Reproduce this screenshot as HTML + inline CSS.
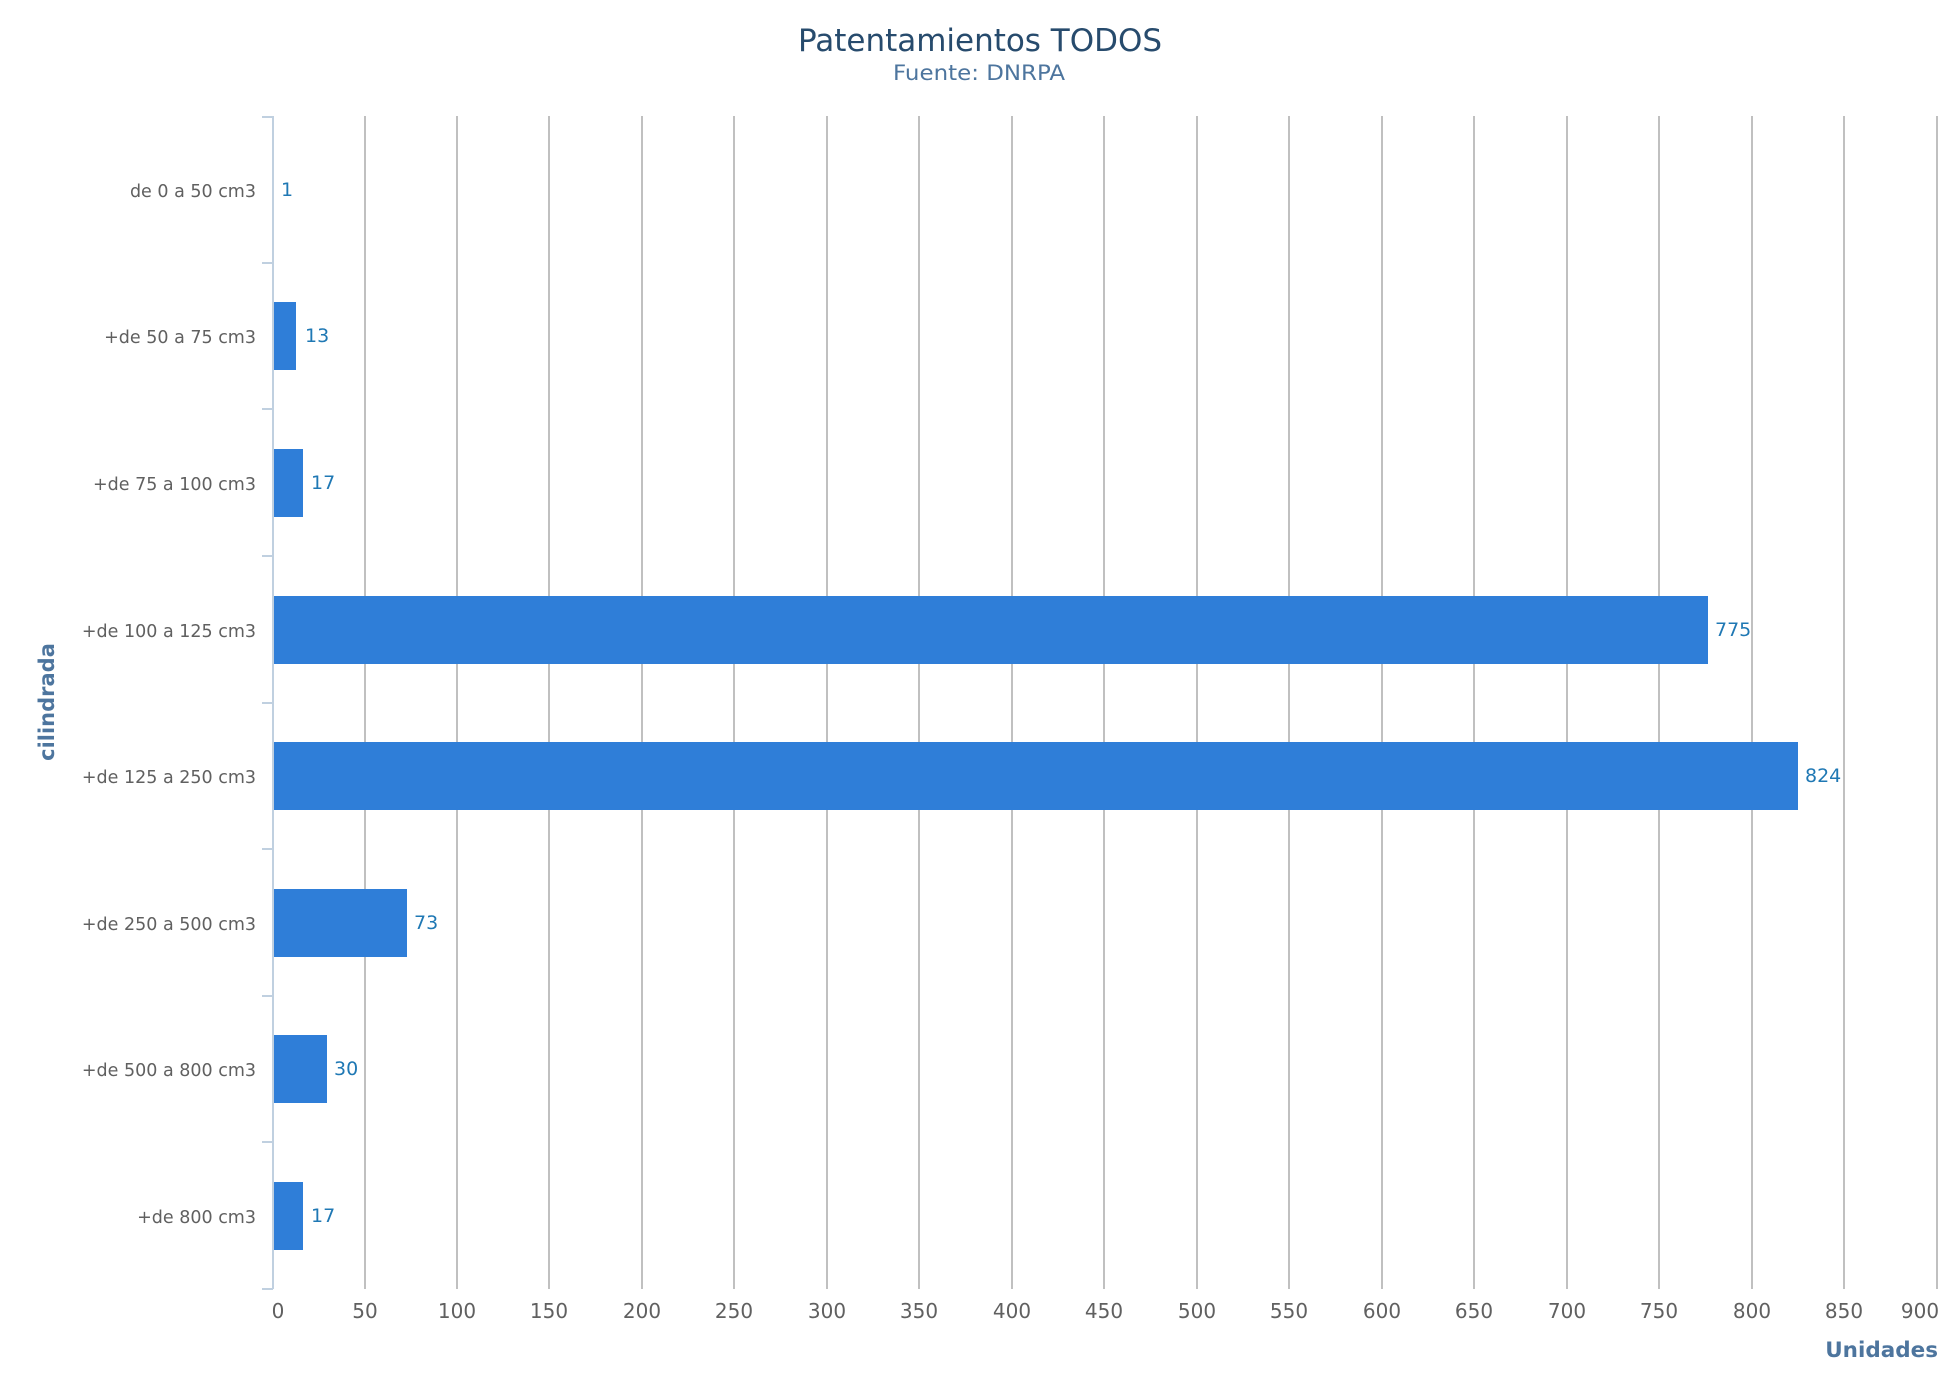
<!DOCTYPE html>
<html><head><meta charset="utf-8"><style>html,body{margin:0;padding:0;background:#fff}svg{display:block}</style></head>
<body>
<svg width="1960" height="1400" xmlns="http://www.w3.org/2000/svg" font-family="DejaVu Sans, Liberation Sans, sans-serif">
<text x="980" y="51" text-anchor="middle" font-size="31" fill="#274b6d" textLength="364" lengthAdjust="spacingAndGlyphs">Patentamientos TODOS</text>
<text x="979" y="80" text-anchor="middle" font-size="21" fill="#4d759e" textLength="172" lengthAdjust="spacingAndGlyphs">Fuente: DNRPA</text>
<g stroke="#c0c0c0" stroke-width="2">
<line x1="365" y1="116" x2="365" y2="1289"/><line x1="457" y1="116" x2="457" y2="1289"/><line x1="549" y1="116" x2="549" y2="1289"/><line x1="642" y1="116" x2="642" y2="1289"/><line x1="734" y1="116" x2="734" y2="1289"/><line x1="827" y1="116" x2="827" y2="1289"/><line x1="919" y1="116" x2="919" y2="1289"/><line x1="1012" y1="116" x2="1012" y2="1289"/><line x1="1104" y1="116" x2="1104" y2="1289"/><line x1="1197" y1="116" x2="1197" y2="1289"/><line x1="1289" y1="116" x2="1289" y2="1289"/><line x1="1382" y1="116" x2="1382" y2="1289"/><line x1="1474" y1="116" x2="1474" y2="1289"/><line x1="1567" y1="116" x2="1567" y2="1289"/><line x1="1659" y1="116" x2="1659" y2="1289"/><line x1="1752" y1="116" x2="1752" y2="1289"/><line x1="1844" y1="116" x2="1844" y2="1289"/><line x1="1937" y1="116" x2="1937" y2="1289"/>
</g>
<g stroke="#c0d0e0" stroke-width="2">
<line x1="273" y1="116" x2="273" y2="1289"/>
<line x1="262" y1="117" x2="273" y2="117"/><line x1="262" y1="263" x2="273" y2="263"/><line x1="262" y1="409" x2="273" y2="409"/><line x1="262" y1="556" x2="273" y2="556"/><line x1="262" y1="703" x2="273" y2="703"/><line x1="262" y1="849" x2="273" y2="849"/><line x1="262" y1="996" x2="273" y2="996"/><line x1="262" y1="1142" x2="273" y2="1142"/><line x1="262" y1="1289" x2="273" y2="1289"/>
</g>
<g fill="#2f7ed8">
<rect x="274" y="302" width="22" height="68"/>
<rect x="274" y="449" width="29" height="68"/>
<rect x="274" y="596" width="1434" height="68"/>
<rect x="274" y="742" width="1524" height="68"/>
<rect x="274" y="889" width="133" height="68"/>
<rect x="274" y="1035" width="53" height="68"/>
<rect x="274" y="1182" width="29" height="68"/>
</g>
<g font-size="19" fill="#1f78b4">
<text x="281" y="196">1</text><text x="305" y="342">13</text><text x="311" y="489">17</text><text x="1715" y="636">775</text><text x="1805" y="782">824</text><text x="414" y="929">73</text><text x="334" y="1075">30</text><text x="311" y="1222">17</text>
</g>
<g font-size="17.5" fill="#606060" text-anchor="end">
<text x="256" y="197">de 0 a 50 cm3</text><text x="256" y="343">+de 50 a 75 cm3</text><text x="256" y="490">+de 75 a 100 cm3</text><text x="256" y="637">+de 100 a 125 cm3</text><text x="256" y="783">+de 125 a 250 cm3</text><text x="256" y="930">+de 250 a 500 cm3</text><text x="256" y="1076">+de 500 a 800 cm3</text><text x="256" y="1223">+de 800 cm3</text>
</g>
<g font-size="20" fill="#606060" text-anchor="middle">
<text x="278" y="1318">0</text><text x="365" y="1318">50</text><text x="457" y="1318">100</text><text x="549" y="1318">150</text><text x="642" y="1318">200</text><text x="734" y="1318">250</text><text x="827" y="1318">300</text><text x="919" y="1318">350</text><text x="1012" y="1318">400</text><text x="1104" y="1318">450</text><text x="1197" y="1318">500</text><text x="1289" y="1318">550</text><text x="1382" y="1318">600</text><text x="1474" y="1318">650</text><text x="1567" y="1318">700</text><text x="1659" y="1318">750</text><text x="1752" y="1318">800</text><text x="1844" y="1318">850</text><text x="1920" y="1318">900</text>
</g>
<text x="1938" y="1357" text-anchor="end" font-size="21.5" font-weight="bold" fill="#4d759e">Unidades</text>
<text transform="translate(54,702) rotate(-90)" text-anchor="middle" font-size="21" font-weight="bold" fill="#4d759e">cilindrada</text>
</svg>
</body></html>
